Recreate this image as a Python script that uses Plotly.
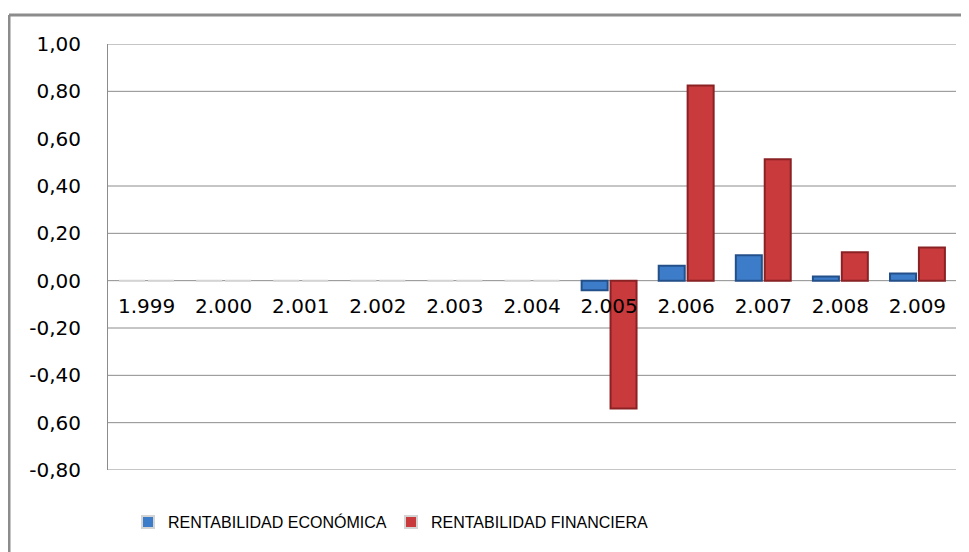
import plotly.graph_objects as go

years = ["1.999", "2.000", "2.001", "2.002", "2.003", "2.004",
         "2.005", "2.006", "2.007", "2.008", "2.009"]
rent_economica = [0, 0, 0, 0, 0, 0, -0.04, 0.063, 0.107, 0.018, 0.03]
rent_financiera = [0, 0, 0, 0, 0, 0, -0.54, 0.825, 0.513, 0.12, 0.14]

y_ticks = [1.0, 0.8, 0.6, 0.4, 0.2, 0.0, -0.2, -0.4, -0.6, -0.8]
y_ticktext = ["1,00", "0,80", "0,60", "0,40", "0,20", "0,00", "-0,20", "-0,40", "0,60", "-0,80"]
grid_values = [1.0, 0.8, 0.4, 0.2, 0.0, -0.2, -0.4, -0.6, -0.8]
y_range = [-0.8, 1.0]

OFF = 8  # default page margin of the html body
W, H = 969 - OFF, 552 - OFF
ML, MT = 108 - OFF, 44 - OFF
MR = 13
MB = H - MT - 426
pw, ph = W - ML - MR, H - MT - MB


def line_colors(vals, dark):
    return ["#d4d4d4" if v == 0 else dark for v in vals]


fig = go.Figure()
fig.add_trace(go.Bar(
    x=years, y=rent_economica, name="RENTABILIDAD ECONÓMICA",
    marker=dict(color="#3d7cc9", line=dict(color=line_colors(rent_economica, "#24508a"), width=2)),
))
fig.add_trace(go.Bar(
    x=years, y=rent_financiera, name="RENTABILIDAD FINANCIERA",
    marker=dict(color="#c93a3c", line=dict(color=line_colors(rent_financiera, "#8a2224"), width=2)),
))

shapes = []
for v in grid_values:
    shapes.append(dict(type="line", xref="paper", yref="y", x0=0, x1=1, y0=v, y1=v,
                       line=dict(color="#8c8c8c", width=1), layer="below"))
# outer chart frame
fx0 = (9 - OFF - ML) / pw
fy1 = 1 + (MT - (15 - OFF)) / ph
fx1 = (W + 5 - ML) / pw
fy0 = -(MB + 5) / ph
shapes.append(dict(type="line", xref="paper", yref="paper", x0=fx0, x1=fx1, y0=fy1, y1=fy1,
                   line=dict(color="#8c8c8c", width=3)))
shapes.append(dict(type="line", xref="paper", yref="paper", x0=fx0, x1=fx0, y0=fy1, y1=fy0,
                   line=dict(color="#8c8c8c", width=3)))

zero_pos = (0 - y_range[0]) / (y_range[1] - y_range[0])

fig.update_layout(
    width=W, height=H,
    margin=dict(l=ML, r=MR, t=MT, b=MB),
    paper_bgcolor="white", plot_bgcolor="white",
    barmode="group", bargap=0.25, bargroupgap=0.1,
    font=dict(family="DejaVu Sans", size=20, color="black"),
    shapes=shapes,
    xaxis=dict(
        anchor="free", position=zero_pos, showline=False, showgrid=False,
        ticks="", tickfont=dict(size=20, family="DejaVu Sans"), ticklabelstandoff=11,
        zeroline=False,
    ),
    yaxis=dict(
        range=y_range, tickvals=y_ticks, ticktext=y_ticktext, showgrid=False,
        zeroline=False, showline=True, linecolor="#8c8c8c", linewidth=1,
        ticks="", ticklabelstandoff=22, tickfont=dict(size=20, family="DejaVu Sans"),
    ),
    legend=dict(
        orientation="h", x=(128 - OFF - ML) / pw, xanchor="left",
        y=-(522 - 470) / ph, yanchor="middle",
        font=dict(family="Liberation Sans", size=16),
        entrywidth=218, entrywidthmode="pixels", itemwidth=30,
    ),
)

fig.write_html("out.html")
